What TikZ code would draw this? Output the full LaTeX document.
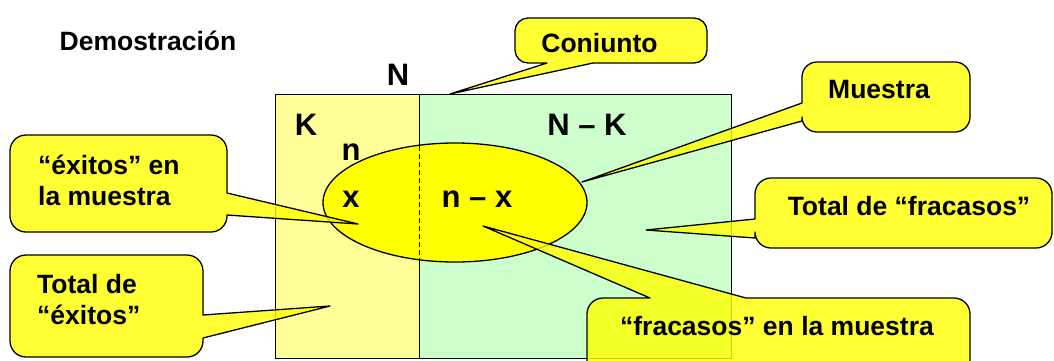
\documentclass[tikz,border=0pt]{standalone}
\usepackage{fontspec}
\setmainfont{Liberation Sans}
\usetikzlibrary{shapes.geometric}
\definecolor{lightyel}{HTML}{FFFF99}
\definecolor{lightgrn}{HTML}{CCFFCC}
\definecolor{yel}{HTML}{FFFF00}
\begin{document}
\begin{tikzpicture}[x=1pt,y=-1pt,
  callout/.style={draw=black, line width=1.3pt, fill=yel, fill opacity=0.8, line join=round},
  ctext/.style={font=\bfseries\fontsize{26.5}{31}\selectfont, inner sep=0, anchor=base},
  ltext/.style={font=\bfseries\fontsize{26.5}{31}\selectfont, inner sep=0, anchor=base west, align=left},
  big/.style={font=\bfseries\fontsize{31}{36}\selectfont, inner sep=0, anchor=base},
]
\useasboundingbox (0,0) rectangle (1054,360);
\clip (0,0) rectangle (1054,360);
% sets
\fill[lightyel] (275,94) rectangle (419,358);
\fill[lightgrn] (419,94) rectangle (731,358);
\draw[line width=1pt] (275,94) rectangle (731,358);
\draw[line width=1pt] (419,94) -- (419,358);
\node (mue) [draw, ellipse, fill=yel, minimum width=264, minimum height=119, line width=1.3pt, inner sep=0] at (455,202.5) {};
\draw[line width=1pt, dash pattern=on 5pt off 3pt] (419,145.5) -- (419,259.5);
% title and labels
\node (demo) [font=\bfseries\fontsize{26.5}{31}\selectfont, inner sep=0, anchor=base] at (148,50) {Demostración};
\node (lN)  [big] at (398,85) {N};
\node (lK)  [big] at (306,135) {K};
\node (lNK) [big] at (587,135) {N – K};
\node (ln)  [big] at (351,160) {n};
\node (lx)  [big] at (351,207) {x};
\node (lnx) [big] at (477,207) {n – x};
% tips
\coordinate (tC) at (450,94);
\coordinate (tM) at (582,182);
\coordinate (tTF) at (646,230);
\coordinate (tEM) at (358,224);
\coordinate (tTE) at (330,306);
\coordinate (tFM) at (483,226);
% callouts
\draw[callout] (611,18) [rounded corners=13] -- (707,18) -- (707,63) [sharp corners] -- (593,63) -- (tC) -- (547,63) [rounded corners=13] -- (515,63) -- (515,18) -- cycle;
\draw[callout] (886,62) [rounded corners=15] -- (970,62) -- (970,132) -- (802,132) [sharp corners] -- (802,121) -- (tM) -- (802,103) [rounded corners=15] -- (802,62) -- cycle;
\draw[callout] (900,178) [rounded corners=16] -- (1052,178) -- (1052,248) -- (755,248) [sharp corners] -- (755,238) -- (tTF) -- (755,219) [rounded corners=16] -- (755,178) -- cycle;
\draw[callout] (118,135) [rounded corners=16] -- (227,135) [sharp corners] -- (227,193) -- (tEM) -- (227,215) [rounded corners=16] -- (227,232) -- (10,232) -- (10,135) -- cycle;
\draw[callout] (106,255) [rounded corners=16] -- (203,255) [sharp corners] -- (203,315) -- (tTE) -- (203,338) [rounded corners=16] -- (203,357) -- (10,357) -- (10,255) -- cycle;
\draw[callout] (800,298) [rounded corners=16] -- (970,298) -- (970,380) -- (587,380) -- (587,298) [sharp corners] -- (650,298) -- (tFM) -- (746,298) [rounded corners=16] -- cycle;
% callout texts
\node (cC)  [ctext] at (599.5,52) {Coniunto};
\node (cM)  [ctext] at (879,98) {Muestra};
\node (cTF) [ctext] at (909,215) {Total de “fracasos”};
\node (cEM) [ltext] at (38,205) {“éxitos” en\\la muestra};
\node (cTE) [ltext] at (37,324) {Total de\\“éxitos”};
\node (cFM) [ctext] at (777,335) {“fracasos” en la muestra};
\end{tikzpicture}
\end{document}
